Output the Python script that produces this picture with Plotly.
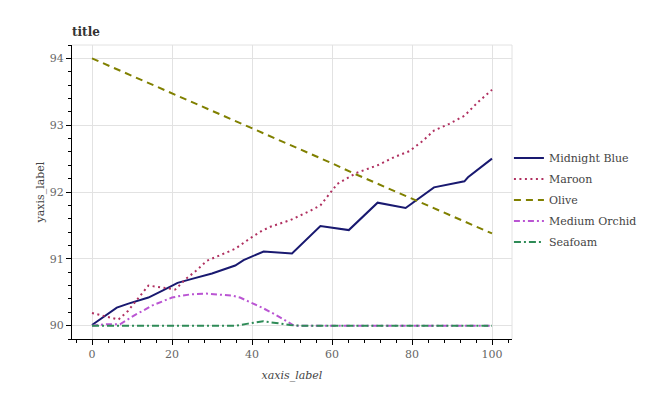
import plotly.graph_objects as go

# ---- data ----
blue_x = [0, 6.2, 9.1, 14.1, 17.5, 21.4, 25, 30, 35.8, 37.9, 42.9, 50, 57.1, 64.2, 71.4, 78.4, 85.5, 93.1, 94, 96.4, 98.1, 100]
blue_y = [90.01, 90.27, 90.33, 90.42, 90.52, 90.64, 90.7, 90.78, 90.9, 90.98, 91.11, 91.08, 91.49, 91.43, 91.84, 91.76, 92.07, 92.16, 92.22, 92.33, 92.42, 92.5]

maroon_x = [0, 3, 6.6, 9, 11.5, 14.1, 16.5, 20.8, 23.5, 26, 28.7, 32.9, 35.8, 39.6, 42.5, 44.6, 49.6, 54.6, 57.1, 59.6, 61.3, 63, 66.3, 71.4, 75.5, 79.3, 82.6, 85.5, 89.3, 93.1, 96.4, 98.5, 100]
maroon_y = [90.19, 90.14, 90.09, 90.22, 90.4, 90.6, 90.58, 90.54, 90.7, 90.82, 90.97, 91.07, 91.15, 91.31, 91.42, 91.48, 91.58, 91.72, 91.8, 91.99, 92.12, 92.18, 92.29, 92.4, 92.52, 92.61, 92.76, 92.92, 93.02, 93.14, 93.34, 93.45, 93.53]

olive_x = [0, 5, 10, 15, 20, 25, 30, 35, 40, 45, 50, 55, 60, 65, 70, 75, 80, 85, 90, 95, 100]
olive_y = [94.0, 93.87, 93.73, 93.61, 93.48, 93.34, 93.21, 93.08, 92.95, 92.82, 92.69, 92.56, 92.43, 92.29, 92.16, 92.03, 91.9, 91.76, 91.64, 91.51, 91.38]

orchid_x = [0, 3.5, 7, 8.5, 11, 13, 15, 17.5, 20, 22.5, 25, 28.5, 32, 35, 37, 39.2, 42.5, 46, 48.8, 50.5, 55, 60, 70, 80, 90, 100]
orchid_y = [90.0, 90.02, 90.02, 90.08, 90.17, 90.23, 90.3, 90.36, 90.42, 90.45, 90.47, 90.48, 90.46, 90.45, 90.42, 90.36, 90.27, 90.16, 90.06, 90.0, 90.0, 90.0, 90.0, 90.0, 90.0, 90.0]

seafoam_x = [0, 10, 20, 30, 36, 39, 42.8, 46, 49.5, 52, 60, 70, 80, 90, 100]
seafoam_y = [90.0, 90.0, 90.0, 90.0, 90.0, 90.03, 90.065, 90.04, 90.01, 90.0, 90.0, 90.0, 90.0, 90.0, 90.0]

series = [
    ("Midnight Blue", blue_x, blue_y, "#191970", "solid"),
    ("Maroon", maroon_x, maroon_y, "#B03060", "2px,3.5px"),
    ("Olive", olive_x, olive_y, "#808000", "7px,5px"),
    ("Medium Orchid", orchid_x, orchid_y, "#BA55D3", "6px,3px,2px,3px"),
    ("Seafoam", seafoam_x, seafoam_y, "#2E8B57", "7px,3px,2px,3px"),
]

x_ticks = [0, 20, 40, 60, 80, 100]
y_ticks = [90, 91, 92, 93, 94]

FONT = "DejaVu Serif"

fig = go.Figure()
for i, (name, xs, ys, color, dash) in enumerate(series):
    fig.add_trace(go.Scatter(x=xs, y=ys, mode="lines", name=name, legendgroup=f"g{i}",
                             line=dict(color=color, width=2, dash=dash)))

fig.update_layout(
    width=665, height=400,
    margin=dict(l=64, r=161, t=37, b=69, autoexpand=False),
    paper_bgcolor="white", plot_bgcolor="white",
    font=dict(family=FONT, size=11, color="#444"),
    title=dict(text="title", x=0, xref="paper", xanchor="left",
               y=1 - 24 / 400, yref="container", yanchor="middle",
               font=dict(family=FONT, size=12, color="#333", weight="bold")),
    legend=dict(x=0.993, xanchor="left", y=0.473, yanchor="middle",
                font=dict(family=FONT, size=11, color="#444"),
                bgcolor="rgba(0,0,0,0)", tracegroupgap=2),
    showlegend=True,
)

fig.update_xaxes(
    range=[-5, 105], tickvals=x_ticks, ticks="outside", ticklen=5, tickcolor="black",
    showline=True, linecolor="black", linewidth=1, automargin=False,
    showgrid=True, gridcolor="#e2e2e2", gridwidth=1, zeroline=False,
    minor=dict(dtick=4, tick0=0, ticks="outside", ticklen=3, tickcolor="black", showgrid=False),
    title=dict(text="<i>xaxis_label</i>", standoff=11, font=dict(family=FONT, size=11, color="#444")),
    tickfont=dict(family=FONT, size=11, color="#666"),
)
fig.update_yaxes(
    range=[89.8, 94.2], tickvals=y_ticks, ticks="outside", ticklen=5, tickcolor="black",
    showline=True, linecolor="black", linewidth=1, automargin=False,
    showgrid=True, gridcolor="#e2e2e2", gridwidth=1, zeroline=False,
    minor=dict(dtick=0.2, tick0=90, ticks="outside", ticklen=3, tickcolor="black", showgrid=False),
    title=dict(text="yaxis_label", standoff=2, font=dict(family=FONT, size=11, color="#444")),
    tickfont=dict(family=FONT, size=11, color="#666"),
)

# light frame on top and right of plot area
fig.add_shape(type="line", xref="paper", yref="paper", x0=0, x1=1, y0=1, y1=1,
              line=dict(color="#e2e2e2", width=1))
fig.add_shape(type="line", xref="paper", yref="paper", x0=1, x1=1, y0=0, y1=1,
              line=dict(color="#e2e2e2", width=1))

fig.write_html("out.html")
